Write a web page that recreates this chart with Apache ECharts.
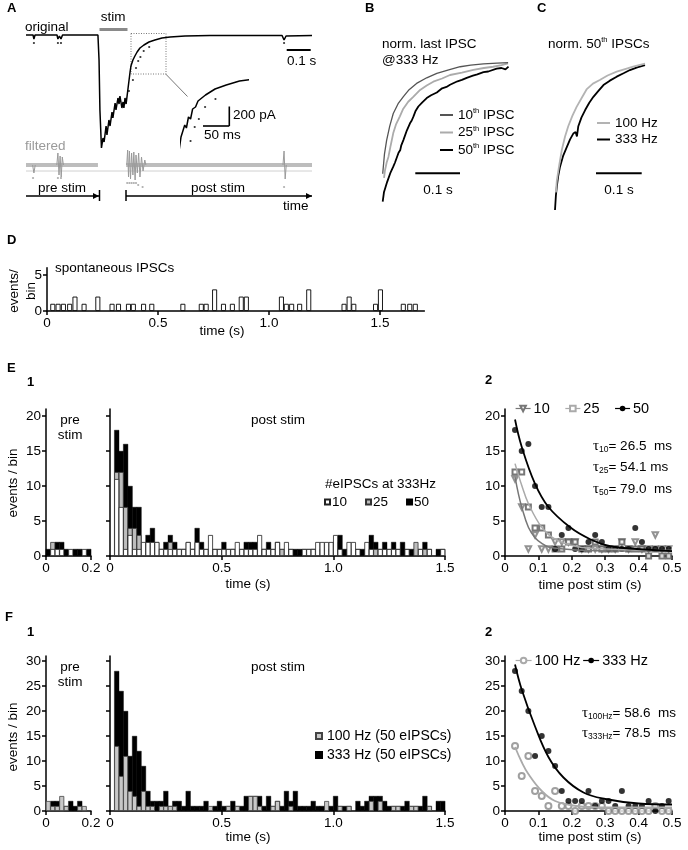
<!DOCTYPE html>
<html>
<head>
<meta charset="utf-8">
<script src="https://cdn.jsdelivr.net/npm/echarts@6/dist/echarts.min.js"></script>
<style>
  html, body { margin: 0; padding: 0; background: #fff; }
  #chart { width: 688px; height: 850px; }
</style>
</head>
<body>
<div id="chart"></div>
<script>
'use strict';
var FONT = '"Liberation Sans", Arial, sans-serif';
var SERIF = '"Liberation Serif", "DejaVu Serif", serif';
var FS = 13.5;

// ---- A: recorded trace (s, pA) ----
var traceOrig = [[0,0],[0.032,0],[0.036,-40],[0.041,0],[0.141,0],[0.145,-40],[0.152,-10],[0.159,-40],[0.166,0],
  [0.327,0],[0.332,-250],[0.336,-750],[0.343,-1130],[0.35,-1030],[0.355,-1070],[0.364,-910],[0.368,-1000],
  [0.377,-850],[0.382,-910],[0.391,-770],[0.395,-830],[0.405,-680],[0.409,-750],[0.418,-630],[0.423,-690],
  [0.427,-610],[0.436,-730],[0.441,-670],[0.445,-730],[0.45,-630],[0.455,-690],[0.464,-530],[0.473,-370],
  [0.477,-310],[0.486,-250],[0.49,-265],[0.495,-210],[0.5,-220],[0.505,-170],[0.512,-160],[0.518,-130],
  [0.522,-140],[0.536,-100],[0.559,-70],[0.586,-50],[0.618,-30],[0.655,-20],[0.723,-10],[0.836,-5],
  [1.164,-5],[1.173,-50],[1.182,-10],[1.3,-5]];
var eventMarks = [[0.036,-80],[0.145,-80],[0.159,-80],[1.173,-80],[0.468,-560],[0.486,-450],[0.5,-330],
  [0.51,-260],[0.52,-220],[0.535,-160],[0.56,-120]];
var filtBand = [[0,0],[0.327,0],[0.39,null],[0.455,0],[1.3,0]];
var filtSpikes = [[0.03,0],[0.036,-8],[0.042,0],[0.1,null],[0.14,0],[0.145,12],[0.15,-10],[0.155,9],[0.16,-12],
  [0.165,8],[0.17,0],[0.3,null],[0.458,0],[0.462,15],[0.466,-12],[0.47,14],[0.475,-14],[0.48,12],[0.486,-10],
  [0.49,13],[0.496,-15],[0.5,10],[0.506,-8],[0.512,12],[0.518,-12],[0.525,8],[0.532,-6],[0.54,5],[0.545,0],
  [0.9,null],[1.168,0],[1.173,14],[1.178,-14],[1.183,0]];
var filtMarks = [[0.032,-13],[0.145,-13],[0.159,-13],[0.46,-18],[0.47,-18],[0.48,-18],[0.49,-18],[0.5,-18],
  [0.51,-20],[0.53,-22],[1.173,-22]];
var threshold = [[0,-6],[1.3,-6]];

// ---- B / C: normalised decays (s, norm. amplitude) ----
var b10 = [[0,-0.80],[0.004,-0.66],[0.009,-0.56],[0.016,-0.46],[0.024,-0.37],[0.035,-0.30],[0.047,-0.25],
  [0.06,-0.2],[0.077,-0.155],[0.1,-0.115],[0.123,-0.083],[0.15,-0.058],[0.176,-0.036],[0.2,-0.025],
  [0.229,-0.016],[0.26,-0.01],[0.285,-0.007]];
var b25 = [[0.003,-0.83],[0.005,-0.78],[0.009,-0.72],[0.013,-0.68],[0.018,-0.6],[0.024,-0.51],[0.03,-0.45],
  [0.039,-0.39],[0.046,-0.34],[0.058,-0.286],[0.07,-0.25],[0.085,-0.202],[0.1,-0.17],[0.115,-0.143],
  [0.135,-0.12],[0.153,-0.095],[0.18,-0.078],[0.206,-0.059],[0.23,-0.045],[0.251,-0.036],[0.27,-0.025],
  [0.285,-0.012]];
var b50 = [[0,-1],[0.003,-0.93],[0.006,-0.9],[0.01,-0.86],[0.013,-0.85],[0.018,-0.79],[0.021,-0.8],
  [0.024,-0.75],[0.028,-0.72],[0.031,-0.73],[0.036,-0.65],[0.04,-0.63],[0.042,-0.6],[0.047,-0.56],
  [0.05,-0.57],[0.055,-0.49],[0.062,-0.44],[0.066,-0.42],[0.07,-0.39],[0.075,-0.35],[0.081,-0.32],
  [0.09,-0.29],[0.1,-0.26],[0.11,-0.24],[0.123,-0.22],[0.135,-0.19],[0.145,-0.18],[0.153,-0.165],
  [0.17,-0.14],[0.18,-0.13],[0.191,-0.115],[0.205,-0.1],[0.215,-0.09],[0.229,-0.075],[0.24,-0.07],
  [0.259,-0.05],[0.27,-0.045],[0.279,-0.055],[0.286,-0.035]];
var c333 = [[0,-1],[0.002,-0.9],[0.004,-0.84],[0.007,-0.77],[0.011,-0.705],[0.018,-0.63],[0.026,-0.57],
  [0.033,-0.52],[0.04,-0.48],[0.045,-0.47],[0.048,-0.5],[0.051,-0.43],[0.058,-0.37],[0.066,-0.32],
  [0.075,-0.27],[0.084,-0.23],[0.095,-0.19],[0.106,-0.15],[0.12,-0.12],[0.135,-0.093],[0.15,-0.07],
  [0.164,-0.048],[0.18,-0.03],[0.197,-0.014]];
var c100 = [[0.002,-0.88],[0.004,-0.8],[0.009,-0.7],[0.015,-0.59],[0.022,-0.5],[0.029,-0.43],[0.038,-0.36],
  [0.047,-0.3],[0.058,-0.24],[0.069,-0.18],[0.083,-0.14],[0.098,-0.116],[0.115,-0.085],[0.135,-0.059],
  [0.155,-0.04],[0.171,-0.025],[0.197,-0.005]];

// ---- D: spontaneous IPSCs ----
var spontT = [0.026,0.050,0.074,0.102,0.126,0.167,0.229,0.293,0.322,0.367,0.389,0.435,0.472,0.612,0.695,
  0.717,0.755,0.795,0.835,0.875,0.898,1.056,1.078,1.102,1.138,1.179,1.338,1.361,1.382,1.480,1.502,1.605,
  1.634,1.659];
var spontN = [1,1,1,1,2,1,2,1,1,1,1,1,1,1,1,1,3,1,1,2,2,2,1,1,1,3,1,2,1,1,3,1,1,1];

// ---- E / F histograms, 20 ms bins ----
var BIN = 0.02;
var e1Pre10 = [0,1,1,1,0,1,0,0,1,0];
var e1Pre25 = [0,2,1,0,0,0,0,0,0,0];
var e1Pre50 = [1,1,2,2,1,0,1,1,0,1];
var e1Post10 = [0,11,7,1,3,1,1,2,2,2, 2,1,1,1,1,1,1,2,1,2, 1,1,3,1,1,1,1,1,2,1, 1,1,1,3,1,1,1,2,0,2,
  1,0,0,1,1,1,2,2,2,2, 3,1,0,2,2,1,0,2,1,0, 1,1,1,1,1,0,1,0,0,1, 0,1,0,0,1];
var e1Post25 = [0,12,12,7,4,4,3,1,1,2, 2,1,1,2,1,1,1,2,1,1, 1,0,1,0,0,1,0,1,0,0, 1,0,1,0,1,1,0,1,1,0,
  0,0,0,0,0,1,0,0,1,0, 0,0,0,0,1,0,0,0,0,1, 0,0,0,1,0,0,0,0,2,0, 1,0,0,0,0];
var e1Post50 = [0,18,15,16,10,7,7,1,3,4, 1,1,2,3,2,1,1,1,1,4, 2,1,1,1,1,2,1,1,1,1, 2,2,2,1,1,2,1,2,1,1,
  1,1,1,1,1,1,1,1,1,1, 2,3,1,1,1,1,1,1,3,2, 1,2,1,2,1,2,1,1,1,1, 2,1,0,1,1];
var f1Pre100 = [2,1,1,3,1,0,0,1,1,0];
var f1Pre333 = [0,2,2,0,1,2,1,2,0,0];
var f1Post100 = [0,13,7,11,4,3,1,4,1,1, 0,1,1,1,1,0,0,0,0,0, 0,0,1,0,0,0,1,0,1,0, 0,3,3,1,0,0,1,2,0,0,
  1,0,0,0,0,0,0,0,2,0, 0,1,0,1,0,0,0,0,2,0, 2,0,0,1,1,0,0,1,1,0, 0,1,0,0,0];
var f1Post333 = [0,28,24,20,11,15,12,9,4,2, 2,2,4,1,2,2,1,4,1,1, 1,2,0,1,2,1,1,2,1,1, 3,3,3,3,1,3,1,2,1,4,
  2,4,1,1,1,2,1,1,1,1, 3,1,1,1,0,2,1,2,3,3, 3,2,1,1,1,1,2,1,1,1, 3,1,0,2,2];

// exponential fits
var fit10 = [[0.03,11.3],[0.04,8.9],[0.05,7],[0.07,4.1],[0.09,2.6],[0.11,1.8],[0.13,1.3],[0.175,1],[0.25,0.8],[0.5,0.7]];
var fit25 = [[0.03,13.2],[0.05,10.1],[0.07,7.5],[0.11,4.1],[0.15,2.4],[0.21,1.4],[0.3,1],[0.5,0.8]];
var fit50 = [[0.03,19.5],[0.05,15.6],[0.09,10.3],[0.13,7],[0.195,4.1],[0.255,2.4],[0.315,1.4],[0.395,1],[0.5,0.7]];
var fit100 = [[0.03,12.8],[0.05,9.8],[0.07,7.4],[0.11,4],[0.15,2],[0.215,1],[0.3,0.7],[0.5,0.7]];
var fit333 = [[0.03,29.3],[0.05,24.3],[0.09,16.9],[0.13,10.8],[0.175,6.7],[0.235,3.7],[0.3,2.4],[0.4,1.5],[0.5,1.3]];

function bins(arr) {
  return arr.map(function (v, i) { return [BIN / 2 + BIN * i, v > 0 ? v : '-']; });
}
function pts(arr) {
  return arr.slice(1, 25).map(function (v, i) { return [BIN * 1.5 + BIN * i, v]; });
}
function oneDec(v) { return v === 0 ? '0' : v.toFixed(1); }

var axLine = { lineStyle: { color: '#000', width: 1.5 } };
var axTick = { length: 4, lineStyle: { color: '#000', width: 1.5 } };
function lab(extra) {
  var o = { color: '#000', fontSize: FS, fontFamily: FONT, margin: 5 };
  for (var k in extra) o[k] = extra[k];
  return o;
}
function hiddenAx(gi, min, max) {
  return { gridIndex: gi, type: 'value', min: min, max: max, show: false };
}
function xAx(gi, min, max, interval, fmt) {
  return { gridIndex: gi, type: 'value', min: min, max: max, interval: interval,
    axisLine: axLine, axisTick: axTick, splitLine: { show: false },
    axisLabel: lab({ formatter: fmt || oneDec }) };
}
function yAx(gi, max, ticks, showLabel) {
  return { gridIndex: gi, type: 'value', min: 0, max: max,
    axisLine: axLine, splitLine: { show: false },
    axisTick: { length: 4, lineStyle: { color: '#000', width: 1.5 }, customValues: ticks },
    axisLabel: lab({ show: showLabel, customValues: ticks }) };
}
function grid(l, t, w, h) {
  return { left: l, top: t, width: w, height: h, outerBoundsMode: 'none', containLabel: false };
}
function barS(name, arr, ai, fill, border) {
  return { name: name, type: 'bar', xAxisIndex: ai, yAxisIndex: ai, data: bins(arr),
    barWidth: 5, barGap: '-100%',
    itemStyle: { color: fill, borderColor: border || fill, borderWidth: border ? 0.8 : 0.4 } };
}
function lineS(name, data, ai, color, width, extra) {
  var o = { name: name, type: 'line', xAxisIndex: ai, yAxisIndex: ai, data: data, symbol: 'none',
    lineStyle: { color: color, width: width }, itemStyle: { color: color } };
  for (var k in extra) o[k] = extra[k];
  return o;
}
function dotS(data, ai, symbol, color, size, extra) {
  var o = { type: 'scatter', xAxisIndex: ai, yAxisIndex: ai, data: data, symbol: symbol,
    symbolSize: size, itemStyle: { color: color } };
  for (var k in extra) o[k] = extra[k];
  return o;
}

// graphic helpers (labels / scale bars)
function txt(x, y, s, o) {
  o = o || {};
  return { type: 'text', x: x, y: y, rotation: o.rot || 0, silent: true,
    style: { text: s, fontSize: o.size || FS, fontFamily: FONT, fontWeight: o.bold ? 'bold' : 'normal',
      fill: o.fill || '#000', align: o.align || 'left', verticalAlign: 'middle', rich: o.rich } };
}
function seg(x1, y1, x2, y2, color, w, dash) {
  return { type: 'line', silent: true, shape: { x1: x1, y1: y1, x2: x2, y2: y2 },
    style: { stroke: color || '#000', lineWidth: w || 1.5, lineDash: dash } };
}
function arrowHead(x, y) {
  return { type: 'polygon', silent: true, shape: { points: [[x, y], [x - 6, y - 3], [x - 6, y + 3]] },
    style: { fill: '#000' } };
}
var supR = {
  a: { fontSize: FS, fontFamily: FONT, fill: '#000', lineHeight: 16 },
  s: { fontSize: 7.5, fontFamily: FONT, fill: '#000', lineHeight: 8, verticalAlign: 'top' }
};
var tauR = {
  t: { fontSize: 15, fontFamily: SERIF, fill: '#000', lineHeight: 17 },
  s: { fontSize: 8.5, fontFamily: FONT, fill: '#000', lineHeight: 9, verticalAlign: 'bottom' },
  a: { fontSize: 13.5, fontFamily: FONT, fill: '#000', lineHeight: 17 }
};
var legRich = {
  a: { fontSize: FS, fontFamily: FONT, color: '#000', lineHeight: 16 },
  s: { fontSize: 7.5, fontFamily: FONT, color: '#000', lineHeight: 8, verticalAlign: 'top' }
};
var legendNames = {
  '10th IPSC': '{a|10}{s|th}{a| IPSC}', '25th IPSC': '{a|25}{s|th}{a| IPSC}', '50th IPSC': '{a|50}{s|th}{a| IPSC}',
  'c100': '{a|100 Hz}', 'c333': '{a|333 Hz}'
};

var chart = echarts.init(document.getElementById('chart'));
var option = {
  animation: false,
  backgroundColor: '#fff',
  textStyle: { fontFamily: FONT, color: '#000' },
  grid: [
    grid(26, 25, 286, 130),        // 0 A trace
    grid(181, 73, 66, 80),         // 1 A inset
    grid(26, 145, 286, 45),        // 2 A filtered
    grid(382.7, 61.7, 127.6, 140), // 3 B
    grid(555, 63, 91.4, 147),      // 4 C
    grid(47, 267.8, 377.4, 43.2),  // 5 D
    grid(46, 409, 45, 147),        // 6 E1 pre
    grid(110, 409, 335, 147),      // 7 E1 post
    grid(505, 409, 167, 147),      // 8 E2
    grid(46, 656, 45, 155),        // 9 F1 pre
    grid(110, 656, 335, 155),      // 10 F1 post
    grid(505, 656, 167, 155)       // 11 F2
  ],
  xAxis: [
    hiddenAx(0, 0, 1.3), hiddenAx(1, 0.477, 0.636), hiddenAx(2, 0, 1.3),
    hiddenAx(3, 0, 0.29), hiddenAx(4, 0, 0.2),
    { gridIndex: 5, type: 'value', min: 0, max: 1.7, axisLine: axLine, splitLine: { show: false },
      axisTick: { length: 4, lineStyle: { color: '#000', width: 1.5 }, customValues: [0, 0.5, 1, 1.5] },
      axisLabel: lab({ customValues: [0, 0.5, 1, 1.5], formatter: oneDec }) },
    xAx(6, 0, 0.2, 0.2), xAx(7, 0, 1.5, 0.5), xAx(8, 0, 0.5, 0.1),
    xAx(9, 0, 0.2, 0.2), xAx(10, 0, 1.5, 0.5), xAx(11, 0, 0.5, 0.1)
  ],
  yAxis: [
    hiddenAx(0, -1200, 100), hiddenAx(1, -390, 10), hiddenAx(2, -25, 20),
    hiddenAx(3, -1, 0), hiddenAx(4, -1, 0),
    yAx(5, 6, [0, 5], true),
    yAx(6, 21, [0, 5, 10, 15, 20], true), yAx(7, 21, [0, 5, 10, 15, 20], false),
    yAx(8, 21, [0, 5, 10, 15, 20], true),
    yAx(9, 31, [0, 5, 10, 15, 20, 25, 30], true), yAx(10, 31, [0, 5, 10, 15, 20, 25, 30], false),
    yAx(11, 31, [0, 5, 10, 15, 20, 25, 30], true)
  ],
  legend: [
    { left: 440, top: 107, orient: 'vertical', padding: 0, icon: 'rect', itemWidth: 13, itemHeight: 2,
      itemGap: 2.5, selectedMode: false, data: ['10th IPSC', '25th IPSC', '50th IPSC'],
      formatter: function (n) { return legendNames[n]; }, textStyle: { rich: legRich } },
    { left: 597, top: 116, orient: 'vertical', padding: 0, icon: 'rect', itemWidth: 13, itemHeight: 2,
      itemGap: 2.5, selectedMode: false, data: ['c100', 'c333'],
      formatter: function (n) { return legendNames[n]; }, textStyle: { rich: legRich } },
    { left: 324, top: 495, padding: 0, icon: 'rect', itemWidth: 5, itemHeight: 5, itemGap: 18,
      selectedMode: false, data: ['10', '25', '50'],
      textStyle: { fontSize: FS, fontFamily: FONT, color: '#000', padding: [0, 0, 0, -3] } },
    { left: 515, top: 401, padding: 0, itemWidth: 15, itemHeight: 7, itemGap: 15,
      selectedMode: false, data: ['10 ', '25 ', '50 '], lineStyle: { width: 1.2 },
      formatter: function (n) { return n.trim(); },
      textStyle: { fontSize: 14.5, fontFamily: FONT, color: '#000', padding: [0, 0, 0, -2] } },
    { left: 315, top: 729, orient: 'vertical', padding: 0, icon: 'rect', itemWidth: 6, itemHeight: 6,
      itemGap: 5, selectedMode: false, data: ['100 Hz (50 eIPSCs)', '333 Hz (50 eIPSCs)'],
      textStyle: { fontSize: 14, fontFamily: FONT, color: '#000', lineHeight: 14 } },
    { left: 515, top: 653, padding: 0, itemWidth: 16, itemHeight: 7, itemGap: 2,
      selectedMode: false, data: ['100 Hz', '333 Hz'], lineStyle: { width: 1.2 },
      textStyle: { fontSize: 14.5, fontFamily: FONT, color: '#000', padding: [0, 0, 0, -2] } }
  ],
  series: [
    // A
    lineS('orig', traceOrig, 0, '#000', 1.5),
    dotS(eventMarks, 0, 'circle', '#000', 2.2),
    lineS('inset', traceOrig, 1, '#000', 1.5),
    dotS(eventMarks, 1, 'circle', '#000', 2.2),
    lineS('band', filtBand, 2, '#bdbdbd', 4),
    lineS('thr', threshold, 2, '#d0d0d0', 1),
    lineS('spk', filtSpikes, 2, '#9a9a9a', 1),
    dotS(filtMarks, 2, 'circle', '#9a9a9a', 2.2),
    // B
    lineS('50th IPSC', b50, 3, '#000', 1.8),
    lineS('25th IPSC', b25, 3, '#ababab', 1.8),
    lineS('10th IPSC', b10, 3, '#555', 1.3),
    // C
    lineS('c333', c333, 4, '#000', 1.8),
    lineS('c100', c100, 4, '#b3b3b3', 1.8),
    // D
    { type: 'bar', xAxisIndex: 5, yAxisIndex: 5, barWidth: 5,
      data: spontT.map(function (t, i) { return [t, spontN[i]]; }),
      itemStyle: { color: '#fff', borderColor: '#000', borderWidth: 0.9 } },
    // E1
    barS('50', e1Pre50, 6, '#000'), barS('25', e1Pre25, 6, '#bdbdbd', '#333'), barS('10', e1Pre10, 6, '#fff', '#222'),
    barS('50', e1Post50, 7, '#000'), barS('25', e1Post25, 7, '#bdbdbd', '#333'), barS('10', e1Post10, 7, '#fff', '#222'),
    // E2
    lineS('10 ', fit10, 8, '#777', 1.5, { smooth: 0.4, symbol: 'emptyTriangle', symbolRotate: 180, showSymbol: false }),
    lineS('25 ', fit25, 8, '#aaa', 1.5, { smooth: 0.4, symbol: 'emptyRect', showSymbol: false }),
    lineS('50 ', fit50, 8, '#000', 1.8, { smooth: 0.4, symbol: 'circle', showSymbol: false }),
    dotS(pts(e1Post10), 8, 'emptyTriangle', '#777', 5.5, { symbolRotate: 180 }),
    dotS(pts(e1Post25), 8, 'emptyRect', '#555', 5),
    dotS(pts(e1Post50), 8, 'circle', '#000', 6),
    // F1
    barS('333 Hz (50 eIPSCs)', f1Pre333, 9, '#000'), barS('100 Hz (50 eIPSCs)', f1Pre100, 9, '#c8c8c8', '#444'),
    barS('333 Hz (50 eIPSCs)', f1Post333, 10, '#000'), barS('100 Hz (50 eIPSCs)', f1Post100, 10, '#c8c8c8', '#444'),
    // F2
    lineS('100 Hz', fit100, 11, '#aaa', 1.8, { smooth: 0.4, symbol: 'emptyCircle', showSymbol: false }),
    lineS('333 Hz', fit333, 11, '#000', 1.8, { smooth: 0.4, symbol: 'circle', showSymbol: false }),
    dotS(pts(f1Post100), 11, 'emptyCircle', '#888', 6),
    dotS(pts(f1Post333), 11, 'circle', '#000', 6)
  ],
  graphic: [
    // A
    txt(7, 8, 'A', { bold: true, size: 13 }),
    txt(25, 27, 'original'),
    txt(113, 17, 'stim', { align: 'center' }),
    { type: 'rect', silent: true, shape: { x: 99.5, y: 28, width: 28, height: 3 }, style: { fill: '#8a8a8a' } },
    { type: 'rect', silent: true, shape: { x: 131, y: 33.5, width: 35, height: 40.5 },
      style: { fill: 'none', stroke: '#555', lineWidth: 0.8, lineDash: [1, 1.5] } },
    seg(165.7, 74, 187.5, 96.5, '#777', 1),
    seg(229.3, 106.5, 229.3, 126, '#000', 1.6), seg(203, 126, 229.3, 126, '#000', 1.6),
    txt(233, 115, '200 pA'), txt(204, 135, '50 ms'),
    seg(286.7, 50, 310.7, 50, '#000', 2), txt(287, 61, '0.1 s'),
    txt(25, 146, 'filtered', { fill: '#9a9a9a' }),
    seg(26, 196, 99, 196, '#000', 1.3), arrowHead(99, 196), seg(99.5, 190, 99.5, 201, '#000', 1.5),
    seg(126, 190, 126, 201, '#000', 1.5), seg(126, 196, 312, 196, '#000', 1.3), arrowHead(312, 196),
    txt(62, 188, 'pre stim', { align: 'center' }), txt(218, 188, 'post stim', { align: 'center' }),
    txt(283, 206, 'time'),
    // B, C
    txt(365, 8, 'B', { bold: true, size: 13 }), txt(537, 8, 'C', { bold: true, size: 13 }),
    txt(382, 44, 'norm. last IPSC'), txt(382, 60, '@333 Hz'),
    txt(548, 44, '{a|norm. 50}{s|th}{a| IPSCs}', { rich: supR }),
    seg(415.3, 173.3, 460, 173.3, '#000', 2), txt(438, 190, '0.1 s', { align: 'center' }),
    seg(596, 173.3, 641.7, 173.3, '#000', 2), txt(619, 190, '0.1 s', { align: 'center' }),
    // D
    txt(7, 240, 'D', { bold: true, size: 13 }),
    txt(14, 291, 'events/', { rot: Math.PI / 2, align: 'center' }),
    txt(31, 291, 'bin', { rot: Math.PI / 2, align: 'center' }),
    txt(55, 268, 'spontaneous IPSCs'),
    txt(222, 331, 'time (s)', { align: 'center' }),
    // E
    txt(7, 368, 'E', { bold: true, size: 13 }), txt(27, 382, '1', { bold: true, size: 13 }),
    txt(485, 380, '2', { bold: true, size: 13 }),
    txt(13, 483, 'events / bin', { rot: Math.PI / 2, align: 'center' }),
    txt(70, 420, 'pre', { align: 'center' }), txt(70, 435, 'stim', { align: 'center' }),
    txt(278, 420, 'post stim', { align: 'center' }),
    txt(325, 484, '#eIPSCs at 333Hz'),
    txt(248, 584, 'time (s)', { align: 'center' }),
    txt(590, 585, 'time post stim (s)', { align: 'center' }),
    txt(593, 446, '{t|τ}{s|10}{a|= 26.5  ms}', { rich: tauR }),
    txt(593, 467, '{t|τ}{s|25}{a|= 54.1 ms}', { rich: tauR }),
    txt(593, 489, '{t|τ}{s|50}{a|= 79.0  ms}', { rich: tauR }),
    // F
    txt(5, 617, 'F', { bold: true, size: 13 }), txt(27, 632, '1', { bold: true, size: 13 }),
    txt(485, 632, '2', { bold: true, size: 13 }),
    txt(13, 737, 'events / bin', { rot: Math.PI / 2, align: 'center' }),
    txt(70, 667, 'pre', { align: 'center' }), txt(70, 682, 'stim', { align: 'center' }),
    txt(278, 667, 'post stim', { align: 'center' }),
    txt(248, 837, 'time (s)', { align: 'center' }),
    txt(590, 837, 'time post stim (s)', { align: 'center' }),
    txt(582, 713, '{t|τ}{s|100Hz}{a|= 58.6  ms}', { rich: tauR }),
    txt(582, 733, '{t|τ}{s|333Hz}{a|= 78.5  ms}', { rich: tauR })
  ]
};
chart.setOption(option);
</script>
</body>
</html>
